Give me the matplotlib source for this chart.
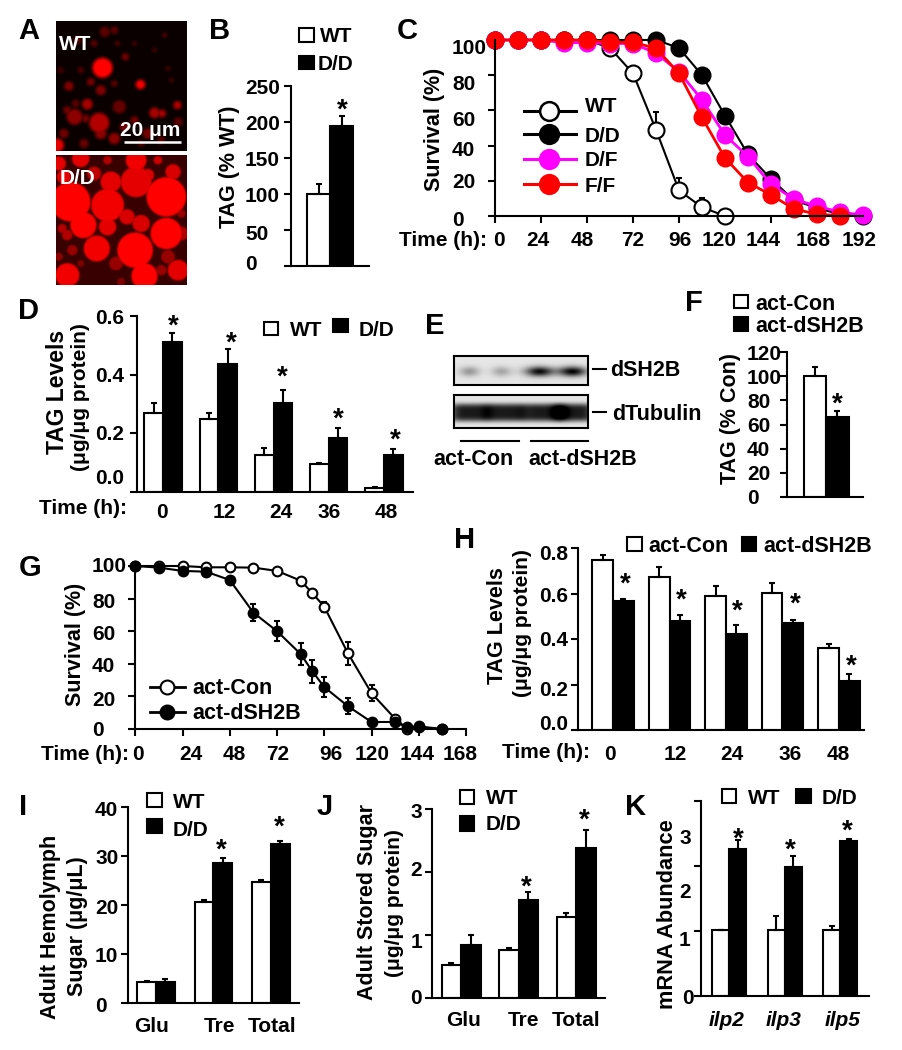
import numpy as np
import matplotlib
matplotlib.use('Agg')
import matplotlib.pyplot as plt
from matplotlib.patches import Rectangle

plt.rcParams['font.family'] = ['Liberation Sans', 'DejaVu Sans']
plt.rcParams['font.weight'] = 'bold'

W, H = 902, 1050

# panel B
b_wt, b_wt_err = [100], [14]
b_dd, b_dd_err = [195], [14]

# panel C, survival every 12 h
c_time = [0, 12, 24, 36, 48, 60, 72, 84, 96, 108, 120, 132, 144, 156, 168, 180, 192]
c_wt = [100, 100, 100, 100, 100, 95.5, 81, 49, 14.5, 5, 0]
c_wt_err = [0, 0, 0, 0, 0, 1, 4.5, 10, 7, 5, 0]
c_dd = [100, 100, 100, 100, 100, 100, 100, 100, 95.5, 80, 57, 35, 21, 9, 4.5, 1, 0]
c_dd_err = [0, 0, 0, 0, 0, 0, 0, 0, 0, 2, 3, 2, 2, 1, 1, 0, 0]
c_df = [100, 100, 100, 98.5, 98.5, 98, 98, 92.5, 82, 66, 46, 33.7, 18, 9.6, 5.5, 2.3, 0.4]
c_df_err = [0, 0, 0, 0, 0, 0, 0, 0, 3, 3, 2, 2, 1, 1, 1, 0, 0]
c_ff = [100, 100, 100, 100, 100, 98.7, 98.7, 95.3, 81, 56, 33, 19, 12, 4, 1, 0.2]
c_ff_err = [0, 0, 0, 0, 0, 0, 0, 0, 2, 3, 2, 3, 1, 1, 0, 0]

# panel D
d_times = ['0', '12', '24', '36', '48']
d_wt = [0.27, 0.248, 0.125, 0.094, 0.012]
d_wt_err = [0.032, 0.022, 0.026, 0.004, 0.004]
d_dd = [0.512, 0.437, 0.302, 0.185, 0.125]
d_dd_err = [0.030, 0.05, 0.047, 0.032, 0.02]

# panel F
f_con, f_con_err = [100], [7.5]
f_sh2b, f_sh2b_err = [66], [5]

# panel G
g_time = [0, 12, 24, 36, 48, 60, 72, 84, 90, 96, 108, 120, 132, 138, 144, 156]
g_con = [100, 100, 100, 99.2, 99.2, 99, 97, 91, 83.3, 75, 46.5, 22, 6.3, 0.2, 1, 0]
g_con_err = [0, 0, 0, 0, 0, 0, 0, 1, 1, 3, 7, 5, 1, 0, 0, 0]
g_sh2b = [100, 99, 97, 96.5, 91.4, 71.4, 60, 46, 35.3, 25.7, 14, 4.3, 4.3, 1.2, 1.6, 0]
g_sh2b_err = [0, 0, 0, 1, 1, 5, 6, 7, 7, 6, 5, 1, 1, 0, 0, 0]

# panel H
h_con = [0.746, 0.671, 0.587, 0.602, 0.36]
h_con_err = [0.025, 0.044, 0.044, 0.044, 0.02]
h_sh2b = [0.565, 0.48, 0.42, 0.47, 0.217]
h_sh2b_err = [0.01, 0.027, 0.041, 0.013, 0.03]

# panel I
i_wt = [4.2, 20.7, 24.75]
i_wt_err = [0.2, 0.3, 0.4]
i_dd = [4.3, 28.5, 32.5]
i_dd_err = [0.5, 1.0, 0.5]

# panel J
j_wt = [0.52, 0.757, 1.28]
j_wt_err = [0.03, 0.03, 0.07]
j_dd = [0.847, 1.55, 2.38]
j_dd_err = [0.16, 0.14, 0.29]

# panel K
k_wt = [1.01, 1.01, 1.01]
k_wt_err = [0.01, 0.22, 0.06]
k_dd = [2.26, 1.98, 2.39]
k_dd_err = [0.14, 0.17, 0.02]

fig = plt.figure(figsize=(W / 100, H / 100), dpi=100)

ov = fig.add_axes([0, 0, 1, 1], zorder=10)
ov.set_xlim(0, W)
ov.set_ylim(H, 0)
ov.axis('off')


def new_axes(left, top, right, bottom):
    ax = fig.add_axes([left / W, 1 - bottom / H, (right - left) / W, (bottom - top) / H])
    ax.patch.set_visible(False)
    for side in ['top', 'right']:
        ax.spines[side].set_visible(False)
    for side in ['left', 'bottom']:
        ax.spines[side].set_linewidth(1.5)
    ax.tick_params(width=1.5, length=5, labelleft=False, labelbottom=False)
    return ax


def put(x, y, s, size=15, ha='center', rot=0, **kw):
    ov.text(x, y, s, fontsize=size, ha=ha, va='center_baseline', rotation=rot,
            rotation_mode='anchor' if rot else 'default', **kw)


def panel(x, y, s):
    put(x, y, s, size=21)


def star(x, y):
    # y is where the middle of the glyph sits
    ov.text(x, y + 15, '*', fontsize=20, ha='center', va='baseline')


def swatch(x, y, w, h, filled):
    ov.add_patch(Rectangle((x, y), w, h, fc='k' if filled else 'w', ec='k', lw=1.5))


def bars(rect, ymax, yticks, wt, wt_err, dd, dd_err, first, spacing, width):
    left, top, right, bottom = rect
    ax = new_axes(left, top, right, bottom)
    ax.set_xlim((left - first) / spacing, (right - first) / spacing)
    ax.set_ylim(0, ymax)
    ax.set_xticks([])
    ax.set_yticks(yticks)
    w = width / spacing
    x = np.arange(len(wt))
    ax.bar(x - w / 2, wt, w, fc='w', ec='k', lw=1.5)
    ax.bar(x + w / 2, dd, w, fc='k', ec='k', lw=1.5)
    zeros = np.zeros(len(wt))
    ax.errorbar(x - w / 2, wt, yerr=[zeros, wt_err], fmt='none', ecolor='k', elinewidth=1.5, capsize=2.5, capthick=1.5)
    ax.errorbar(x + w / 2, dd, yerr=[zeros, dd_err], fmt='none', ecolor='k', elinewidth=1.5, capsize=2.5, capthick=1.5)
    return ax


def curve(ax, t, y, err, color, fill, size, lw=1.5):
    ax.errorbar(t, y, yerr=[np.zeros(len(y)), err], fmt='none', ecolor='k', elinewidth=1.5, capsize=2.5, capthick=1.5, clip_on=False)
    ax.plot(t, y, '-o', color=color, mfc=fill, mec=color, mew=1.5, ms=size, lw=lw, clip_on=False)


def blob_image(blobs, ybase, bg, soft):
    yy, xx = np.mgrid[ybase:ybase + 390, 167:557]
    red = np.full(xx.shape, bg, dtype=float)
    for bx, by, r, level in blobs:
        d = np.hypot(xx - bx, yy - by)
        red = np.maximum(red, level * np.clip((r - d) / soft + 0.5, 0, 1))
    return np.dstack([red, np.zeros(xx.shape), np.zeros(xx.shape)])


# A
wt_blobs = [(305, 203, 30, 1.0), (418, 253, 14, .95), (295, 368, 30, .7), (222, 350, 24, .55), (260, 312, 16, .65),
            (355, 320, 20, .4), (205, 258, 14, .5), (300, 270, 15, .5), (270, 245, 12, .45), (170, 435, 20, .9),
            (460, 338, 16, .65), (482, 340, 12, .65), (528, 315, 12, .7), (340, 90, 12, .35), (312, 95, 16, .35),
            (373, 170, 11, .45), (225, 310, 12, .35), (255, 355, 12, .45), (340, 415, 17, .55), (300, 400, 17, .55),
            (530, 365, 14, .35), (180, 210, 10, .25), (440, 400, 16, .45), (480, 420, 12, .35), (490, 105, 8, .3),
            (460, 150, 8, .25), (400, 360, 12, .45), (370, 380, 14, .45), (200, 330, 12, .45), (230, 120, 12, .35),
            (280, 130, 10, .35), (340, 250, 10, .35), (500, 205, 8, .25), (510, 240, 8, .25), (420, 430, 10, .35),
            (250, 430, 14, .4), (190, 400, 14, .45), (400, 130, 8, .25), (240, 210, 10, .3), (350, 130, 8, .3)]
dd_blobs = [(210, 605, 60, 1), (320, 615, 50, .95), (495, 590, 60, 1), (405, 545, 47, .9), (248, 675, 40, 1),
            (320, 680, 27, .9), (378, 650, 24, .85), (420, 670, 27, .85), (495, 700, 48, 1), (288, 745, 40, .95),
            (402, 750, 54, 1), (200, 705, 17, .7), (185, 685, 15, .7), (200, 825, 37, .95), (430, 828, 40, 1),
            (515, 515, 24, .85), (470, 480, 14, .8), (405, 480, 32, .95), (330, 545, 32, .9), (280, 520, 22, .75),
            (175, 490, 22, .9), (530, 810, 32, .9), (345, 790, 22, .6), (500, 770, 22, .6), (240, 475, 27, .9),
            (190, 530, 22, .9), (440, 525, 20, .85), (215, 750, 17, .6), (240, 790, 12, .5), (480, 810, 17, .6),
            (320, 480, 14, .7), (540, 700, 22, .7), (175, 770, 14, .55), (540, 640, 14, .6), (360, 845, 14, .5)]
for rect, blobs, ybase, bg, soft in [((56, 21, 186, 151), wt_blobs, 63, 0.04, 14), ((56, 155, 186, 285), dd_blobs, 465, 0.22, 9)]:
    ax = fig.add_axes([rect[0] / W, 1 - rect[3] / H, (rect[2] - rect[0]) / W, (rect[3] - rect[1]) / H])
    ax.imshow(blob_image(blobs, ybase, bg, soft), aspect='auto', interpolation='bilinear')
    ax.axis('off')
ov.plot([124, 181], [142, 142], color='w', lw=1.8, solid_capstyle='butt')
put(150, 128, '20 μm', size=15, color='w')
put(59, 43, 'WT', size=15, ha='left', color='w')
put(60, 177, 'D/D', size=15, ha='left', color='w')
panel(29, 28, 'A')

# B
bars((291, 86, 369, 266), 250, [0, 50, 100, 150, 200, 250], b_wt, b_wt_err, b_dd, b_dd_err, 330, 60, 23)
for y, s in zip([86, 123, 158, 195, 232, 263], ['250', '200', '150', '100', '50', '0']):
    put(245, y, s, ha='left')
put(227, 167, 'TAG (% WT)', size=15.5, rot=90)
swatch(299, 28, 15, 14, False)
swatch(299, 56, 15, 13, True)
put(320, 34, 'WT', ha='left')
put(318, 63, 'D/D', ha='left')
star(342, 103)
panel(220, 28, 'B')

# C
ax = new_axes(495, 40, 863, 216)
ax.set_xlim(0, 192)
ax.set_ylim(0, 100)
ax.set_xticks(range(0, 193, 24))
ax.set_yticks(range(0, 101, 20))
curve(ax, c_time[:len(c_wt)], c_wt, c_wt_err, 'k', 'w', 11.5)
curve(ax, c_time, c_dd, c_dd_err, 'k', 'k', 11.5)
curve(ax, c_time, c_df, c_df_err, '#ff00ff', '#ff00ff', 11.5, lw=2)
curve(ax, c_time[:len(c_ff)], c_ff, c_ff_err, '#ff0000', '#ff0000', 11.5, lw=2)
for y, s in zip([46, 83, 118, 148, 180, 218], ['100', '80', '60', '40', '20', '0']):
    put(452, y, s, ha='left')
for x, s in zip([499, 538, 582, 633, 680, 719, 763, 813, 859],
                ['0', '24', '48', '72', '96', '120', '144', '168', '192']):
    put(x, 238, s)
put(487, 238, 'Time (h):', ha='right')
put(432, 129, 'Survival (%)', size=15.5, rot=90)
for y, color, fill, s in [(111, 'k', 'w', 'WT'), (134, 'k', 'k', 'D/D'), (159, '#ff00ff', '#ff00ff', 'D/F'), (184, '#ff0000', '#ff0000', 'F/F')]:
    ov.plot([524, 576], [y, y], color=color, lw=2.2)
    ov.plot([549], [y], 'o', mfc=fill, mec=color, mew=1.8, ms=13.5)
    put(585, y - 6 if s == 'WT' else y, s, ha='left')
panel(407, 28, 'C')

# D
bars((137, 316, 413, 492), 0.6, [0, 0.2, 0.4, 0.6], d_wt, d_wt_err, d_dd, d_dd_err, 163, 55.25, 18.7)
for y, s in zip([317, 375, 432, 477], ['0.6', '0.4', '0.2', '0.0']):
    put(124, y, s, ha='right')
for x, s in zip([162, 224, 281, 329, 386], d_times):
    put(x, 510, s)
put(127, 507, 'Time (h):', ha='right')
put(55, 392, 'TAG Levels', size=16.5, rot=90)
put(78, 397, '(μg/μg protein)', size=15, rot=90)
swatch(264, 322, 14, 13, False)
swatch(333, 319, 15, 13, True)
put(290, 328, 'WT', ha='left')
put(359, 328, 'D/D', ha='left')
for x, y in zip([173, 231, 282, 338, 395], [319, 336, 370, 412, 433]):
    star(x, y)
panel(29, 308, 'D')

# E
yy, xx = np.mgrid[0:29, 0:134]
upper = 0.9 - sum(a * np.exp(-((xx - cx) / sx) ** 2 - ((yy - 15) / 5) ** 2)
                  for cx, sx, a in [(15, 10, 0.3), (47, 10, 0.25), (85, 14, 0.85), (118, 14, 0.88)])
yy, xx = np.mgrid[0:33, 0:134]
lower = 0.9 - sum(a * np.exp(-((xx - cx) / sx) ** 4 - ((yy - 17) / 9) ** 4)
                  for cx, sx, a in [(15, 20, 0.8), (50, 20, 0.8), (88, 22, 0.8), (120, 20, 0.8)])
for rect, img in [((454, 356, 588, 385), upper), ((454, 395, 588, 428), lower)]:
    ax = fig.add_axes([rect[0] / W, 1 - rect[3] / H, (rect[2] - rect[0]) / W, (rect[3] - rect[1]) / H])
    ax.imshow(np.clip(img, 0, 1), cmap='gray', vmin=0, vmax=1, aspect='auto')
    ax.set_xticks([])
    ax.set_yticks([])
    for sp in ax.spines.values():
        sp.set_linewidth(1.5)
ov.plot([593, 606], [369, 369], 'k', lw=1.5)
ov.plot([593, 606], [412, 412], 'k', lw=1.5)
put(610, 368, 'dSH2B', size=15.5, ha='left')
put(612, 412, 'dTubulin', size=15.5, ha='left')
ov.plot([461, 519], [441, 441], 'k', lw=1.5)
ov.plot([531, 588], [441, 441], 'k', lw=1.5)
put(433, 457, 'act-Con', size=15.5, ha='left')
put(528, 457, 'act-dSH2B', size=15.5, ha='left')
panel(435, 323, 'E')

# F
bars((787, 352, 863, 497), 120, range(0, 121, 20), f_con, f_con_err, f_sh2b, f_sh2b_err, 826, 60, 22.5)
for y, s in zip([353, 377, 400, 424, 449, 473, 497], ['120', '100', '80', '60', '40', '20', '0']):
    put(747, y, s, ha='left')
put(728, 418, 'TAG (% Con)', size=15.5, rot=90)
swatch(734, 295, 14, 13, False)
swatch(734, 317, 14, 14, True)
put(755, 302, 'act-Con', size=15.5, ha='left')
put(755, 324, 'act-dSH2B', size=15.5, ha='left')
star(837, 397)
panel(694, 300, 'F')

# G
ax = new_axes(135.3, 566, 466, 729)
ax.set_xlim(0, 168)
ax.set_ylim(0, 100)
ax.set_xticks(range(0, 169, 24))
ax.set_yticks(range(0, 101, 20))
for y, err, fill in [(g_con, g_con_err, 'w'), (g_sh2b, g_sh2b_err, 'k')]:
    ax.errorbar(g_time, y, yerr=err, fmt='none', ecolor='k', elinewidth=1.5, capsize=2, capthick=1.5, clip_on=False)
    ax.plot(g_time, y, '-o', color='k', mfc=fill, mec='k', mew=1.5, ms=7, lw=1.5, clip_on=False)
for y, s in zip([564, 600, 632, 664, 698, 728], ['100', '80', '60', '40', '20', '0']):
    put(92, y, s, ha='left')
for x, s in zip([138, 191, 234, 278, 331, 372, 417, 460], ['0', '24', '48', '72', '96', '120', '144', '168']):
    put(x, 752, s)
put(129, 752, 'Time (h):', ha='right')
put(73, 644, 'Survival (%)', size=15.5, rot=90)
for y, fill, s in [(687, 'w', 'act-Con'), (712, 'k', 'act-dSH2B')]:
    ov.plot([150, 185], [y, y], 'k', lw=2)
    ov.plot([167], [y], 'o', mfc=fill, mec='k', mew=1.5, ms=10)
    put(192, y - 1, s, size=15.5, ha='left')
panel(30, 565, 'G')

# H
bars((578, 548, 864, 730), 0.8, [0, 0.2, 0.4, 0.6, 0.8], h_con, h_con_err, h_sh2b, h_sh2b_err, 613, 56.5, 20.8)
for y, s in zip([552, 595, 639, 688, 723], ['0.8', '0.6', '0.4', '0.2', '0.0']):
    put(568, y, s, ha='right')
for x, s in zip([610, 675, 732, 790, 838], d_times):
    put(x, 752, s)
put(590, 750, 'Time (h):', ha='right')
put(495, 626, 'TAG Levels', size=15.5, rot=90)
put(521, 623, '(μg/μg protein)', size=15, rot=90)
swatch(627, 537, 15, 14, False)
swatch(742, 537, 14, 14, True)
put(648, 544, 'act-Con', size=15.5, ha='left')
put(763, 544, 'act-dSH2B', size=15.5, ha='left')
for x, y in zip([625, 681, 737, 795, 851], [577, 593, 604, 597, 659]):
    star(x, y)
panel(465, 537, 'H')

# I
bars((128, 807, 299, 1003), 40, range(0, 41, 10), i_wt, i_wt_err, i_dd, i_dd_err, 156, 57.4, 18.8)
for y, s in zip([809, 857, 907, 955, 1004], ['40', '30', '20', '10', '0']):
    put(95, y, s, ha='left')
for x, s in zip([152, 219, 272], ['Glu', 'Tre', 'Total']):
    put(x, 1024, s)
put(48, 927, 'Adult Hemolymph', size=15.5, rot=90)
put(75, 926, 'Sugar (μg/μL)', size=15.5, rot=90)
swatch(147, 793, 15, 14, False)
swatch(147, 819, 15, 14, True)
put(173, 801, 'WT', ha='left')
put(173, 828, 'D/D', ha='left')
star(221, 843)
star(279, 820)
panel(23, 804, 'I')

# J
bars((432, 809, 605, 998), 3, [0, 1, 2, 3], j_wt, j_wt_err, j_dd, j_dd_err, 461, 57.5, 19.5)
for y, s in zip([810, 868, 940, 997], ['3', '2', '1', '0']):
    put(416, y, s)
for x, s in zip([464, 523, 576], ['Glu', 'Tre', 'Total']):
    put(x, 1018, s)
put(365, 902, 'Adult Stored Sugar', size=15.5, rot=90)
put(393, 903, '(μg/μg protein)', size=15, rot=90)
swatch(460, 790, 14, 14, False)
swatch(460, 816, 14, 15, True)
put(486, 797, 'WT', ha='left')
put(486, 823, 'D/D', ha='left')
star(526, 880)
star(584, 813)
panel(325, 804, 'J')

# K
bars((701, 801, 869, 996), 3, [0, 1, 2, 3], k_wt, k_wt_err, k_dd, k_dd_err, 729, 55.5, 17)
for x, y, s in zip([685, 685, 685, 688], [837, 890, 939, 997], ['3', '2', '1', '0']):
    put(x, y, s)
for x, s in zip([727, 784, 843], ['ilp2', 'ilp3', 'ilp5']):
    put(x, 1018, s, style='italic')
put(665, 914, 'mRNA Abundance', size=15.7, rot=90)
swatch(722, 789, 14, 14, False)
swatch(796, 789, 15, 14, True)
put(748, 796, 'WT', ha='left')
put(822, 796, 'D/D', ha='left')
for x, y in zip([738, 790, 847], [832, 843, 824]):
    star(x, y)
panel(636, 804, 'K')

fig.savefig('out.png', dpi=100)
